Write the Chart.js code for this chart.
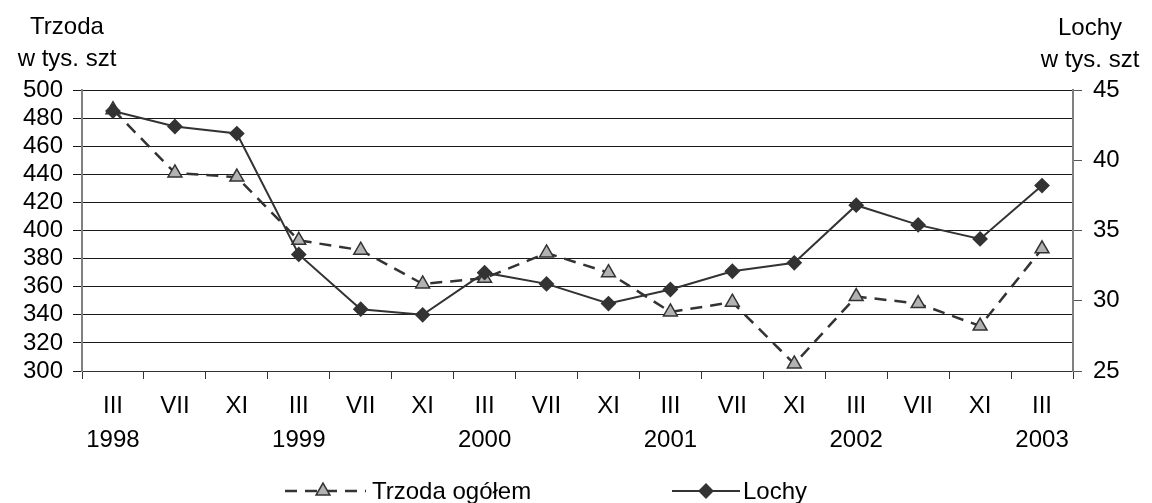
<!DOCTYPE html>
<html>
<head>
<meta charset="utf-8">
<script src="https://cdn.jsdelivr.net/npm/chart.js@4/dist/chart.umd.min.js"></script>
<style>
  html, body { margin: 0; padding: 0; background: #fff; }
  #wrap { width: 1152px; height: 503px; }
</style>
</head>
<body>
<div id="wrap"><canvas id="chart" width="1152" height="503"></canvas></div>
<script>
// dane
const months = ['III', 'VII', 'XI', 'III', 'VII', 'XI', 'III', 'VII', 'XI', 'III', 'VII', 'XI', 'III', 'VII', 'XI', 'III'];
const years = ['1998', '', '', '1999', '', '', '2000', '', '', '2001', '', '', '2002', '', '', '2003'];
const trzoda = [486, 441, 438, 393, 386, 362, 366, 384, 370, 342, 349, 305, 353, 348, 332, 387];
const lochy = [43.5, 42.4, 41.9, 33.3, 29.4, 29.0, 32.0, 31.2, 29.8, 30.8, 32.1, 32.7, 36.8, 35.4, 34.4, 38.2];
const leftTicks = [300, 320, 340, 360, 380, 400, 420, 440, 460, 480, 500];
const rightTicks = [25, 30, 35, 40, 45];

const FONT = "'Liberation Sans', Arial, sans-serif";
const labels = months.map((m, i) => [m, years[i]]);

// tytuly osi + legenda na dole
const extras = {
    id: 'extras',
    afterDraw(chart) {
        const ctx = chart.ctx;
        ctx.save();
        ctx.fillStyle = '#000';
        ctx.font = '24px ' + FONT;
        ctx.textAlign = 'center';
        ctx.textBaseline = 'alphabetic';
        ctx.fillText('Trzoda', 67, 34);
        ctx.fillText('w tys. szt', 67, 66);
        ctx.fillText('Lochy', 1090, 35);
        ctx.fillText('w tys. szt', 1090, 67);

        const ly = 491;
        // Trzoda ogolem
        ctx.strokeStyle = '#333';
        ctx.lineWidth = 2.5;
        ctx.setLineDash([12, 8]);
        ctx.beginPath();
        ctx.moveTo(285, ly);
        ctx.lineTo(366, ly);
        ctx.stroke();
        ctx.setLineDash([]);
        ctx.fillStyle = '#b2b2b2';
        ctx.lineWidth = 1.5;
        Chart.helpers.drawPoint(ctx, {pointStyle: 'triangle', radius: 8, rotation: 0, borderWidth: 1.5}, 323, ly);
        // Lochy
        ctx.lineWidth = 2;
        ctx.beginPath();
        ctx.moveTo(672, ly);
        ctx.lineTo(740, ly);
        ctx.stroke();
        ctx.fillStyle = '#333';
        Chart.helpers.drawPoint(ctx, {pointStyle: 'rectRot', radius: 6.5, rotation: 0, borderWidth: 1}, 706, ly);

        ctx.fillStyle = '#000';
        ctx.textAlign = 'left';
        ctx.fillText('Trzoda ogółem', 372, 499);
        ctx.fillText('Lochy', 743, 499);
        ctx.restore();
    }
};

new Chart(document.getElementById('chart'), {
    type: 'line',
    data: {
        labels: labels,
        datasets: [{
            label: 'Lochy',
            data: lochy,
            yAxisID: 'y1',
            borderColor: '#333',
            borderWidth: 2,
            pointStyle: 'rectRot',
            pointRadius: 6.5,
            pointBackgroundColor: '#333',
            pointBorderColor: '#333',
            tension: 0
        }, {
            label: 'Trzoda ogółem',
            data: trzoda,
            yAxisID: 'y',
            borderColor: '#333',
            borderWidth: 2.5,
            borderDash: [12, 8],
            pointStyle: 'triangle',
            pointRadius: 8,
            pointBackgroundColor: '#b2b2b2',
            pointBorderColor: '#333',
            pointBorderWidth: 1.5,
            tension: 0
        }]
    },
    options: {
        responsive: false,
        animation: false,
        layout: { padding: { top: 90, left: 0, right: 0, bottom: 0 } },
        plugins: {
            legend: { display: false },
            tooltip: { enabled: false }
        },
        scales: {
            x: {
                offset: true,
                grid: { offset: true, drawOnChartArea: false, tickLength: 8, color: '#333' },
                border: { color: '#333', width: 1 },
                ticks: {
                    color: '#000',
                    font: { family: FONT, size: 24, lineHeight: 1.42 },
                    padding: 10,
                    maxRotation: 0,
                    autoSkip: false
                },
                afterFit(scale) { scale.height = 132; }
            },
            y: {
                position: 'left',
                min: leftTicks[0],
                max: leftTicks[leftTicks.length - 1],
                afterBuildTicks(scale) { scale.ticks = leftTicks.map(v => ({ value: v })); },
                grid: { color: '#1a1a1a', tickLength: 9 },
                border: { color: '#808080', width: 2 },
                ticks: {
                    color: '#000',
                    font: { family: FONT, size: 24 },
                    padding: 10,
                    autoSkip: false
                },
                afterFit(scale) { scale.width = 82; }
            },
            y1: {
                position: 'right',
                min: rightTicks[0],
                max: rightTicks[rightTicks.length - 1],
                afterBuildTicks(scale) { scale.ticks = rightTicks.map(v => ({ value: v })); },
                grid: { drawOnChartArea: false, color: '#555', tickLength: 9 },
                border: { color: '#808080', width: 2 },
                ticks: {
                    color: '#000',
                    font: { family: FONT, size: 24 },
                    padding: 11,
                    autoSkip: false
                },
                afterFit(scale) { scale.width = 79; }
            }
        }
    },
    plugins: [extras]
});
</script>
</body>
</html>
